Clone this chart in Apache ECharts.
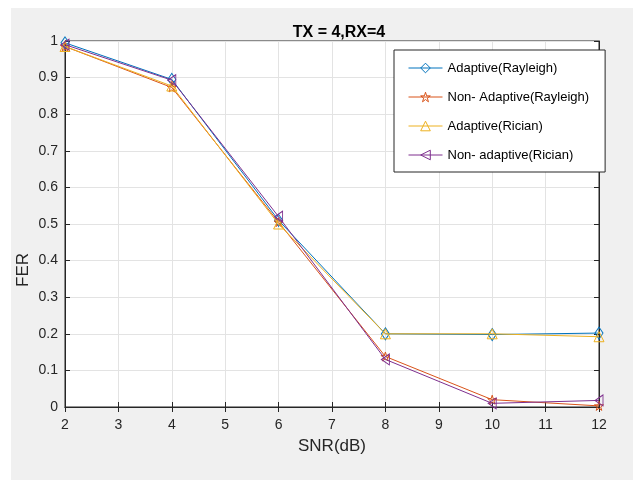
<!DOCTYPE html>
<html lang="en">
<head>
  <meta charset="UTF-8">
  <title>FER vs SNR</title>
  <style>
    html, body, #chart {
      margin: 0;
      padding: 0;
      width: 633px;
      height: 480px;
      background: #ffffff;
    }
  </style>
</head>
<body>
<div id="chart"></div>

<script src="https://cdn.jsdelivr.net/npm/echarts@6/dist/echarts.min.js"></script>
<script>
  // data
  var snr = [2, 4, 6, 8, 10, 12];
  var adaptiveRayleigh = [0.995, 0.895, 0.51, 0.2, 0.198, 0.202];
  var nonAdaptiveRayleigh = [0.985, 0.873, 0.505, 0.138, 0.02, 0.003];
  var adaptiveRician = [0.985, 0.877, 0.5, 0.2, 0.2, 0.192];
  var nonAdaptiveRician = [0.99, 0.893, 0.52, 0.13, 0.01, 0.018];

  var names = ['Adaptive(Rayleigh)', 'Non- Adaptive(Rayleigh)', 'Adaptive(Rician)', 'Non- adaptive(Rician)'];
  var colors = ['#0072BD', '#D95319', '#EDB120', '#7E2F8E'];
  var starPath = 'path://M50,0 L61.8,36.2 L100,36.2 L69.1,58.8 L80.9,95.1 L50,72.6 L19.1,95.1 L30.9,58.8 L0,36.2 L38.2,36.2 Z';
  var leftTri = 'path://M0,50 L100,0 L100,100 Z';
  var symbols = ['diamond', starPath, 'triangle', leftTri];
  var sizes = [[8, 12], 9, 10, [8, 11]];
  var values = [adaptiveRayleigh, nonAdaptiveRayleigh, adaptiveRician, nonAdaptiveRician];

  var font = '"Liberation Sans", Arial, Helvetica, sans-serif';
  var axisColor = '#262626';

  var series = values.map(function (vals, i) {
    return {
      name: names[i],
      type: 'line',
      data: snr.map(function (x, j) { return [x, vals[j]]; }),
      symbol: symbols[i],
      symbolSize: sizes[i],
      showAllSymbol: true,
      lineStyle: { color: colors[i], width: 1 },
      itemStyle: { color: 'rgba(255,255,255,0)', borderColor: colors[i], borderWidth: 1 },
      emphasis: { disabled: true },
      animation: false,
      z: 3 + i
    };
  });

  var chart = echarts.init(document.getElementById('chart'));
  chart.setOption({
    backgroundColor: '#ffffff',
    textStyle: { fontFamily: font },
    graphic: [{
      type: 'rect',
      shape: { x: 11, y: 8, width: 622, height: 472 },
      style: { fill: '#f0f0f0' },
      z: -10
    }],
    title: {
      text: 'TX = 4,RX=4',
      left: 334,
      top: 20,
      textAlign: 'center',
      textStyle: { fontSize: 16, fontWeight: 'bold', color: '#000', fontFamily: font }
    },
    grid: {
      left: 65, top: 41, right: 34, bottom: 73,
      show: true,
      backgroundColor: '#ffffff',
      borderColor: axisColor,
      borderWidth: 1
    },
    legend: {
      orient: 'vertical',
      left: 394,
      top: 50,
      padding: [11, 16, 10, 14],
      itemWidth: 34,
      itemHeight: 12,
      itemGap: 15,
      backgroundColor: '#ffffff',
      borderColor: axisColor,
      borderWidth: 1,
      borderRadius: 0,
      lineStyle: { width: 1 },
      itemStyle: { borderWidth: 1 },
      textStyle: { fontSize: 13, lineHeight: 14, color: '#000', fontFamily: font },
      data: names
    },
    xAxis: [{
      type: 'value',
      min: 2, max: 12, interval: 1,
      name: 'SNR(dB)',
      nameLocation: 'middle',
      nameGap: 31,
      nameMoveOverlap: false,
      nameTextStyle: { fontSize: 17, color: axisColor, fontFamily: font },
      axisLine: { show: true, lineStyle: { color: axisColor } },
      axisTick: { show: true, inside: true, length: 5, lineStyle: { color: axisColor } },
      axisLabel: { fontSize: 14, color: axisColor, margin: 11, fontFamily: font },
      splitLine: { show: true, lineStyle: { color: '#e3e3e3' } }
    }, {
      type: 'value',
      position: 'top',
      min: 2, max: 12, interval: 1,
      axisLine: { show: true, lineStyle: { color: axisColor } },
      axisTick: { show: true, inside: true, length: 5, lineStyle: { color: axisColor } },
      axisLabel: { show: false },
      splitLine: { show: false }
    }],
    yAxis: [{
      type: 'value',
      min: 0, max: 1, interval: 0.1,
      name: 'FER',
      nameLocation: 'middle',
      nameGap: 33,
      nameMoveOverlap: false,
      nameTextStyle: { fontSize: 17, color: axisColor, fontFamily: font, padding: [0, 0, 0, -92] },
      axisLine: { show: true, lineStyle: { color: axisColor } },
      axisTick: { show: true, inside: true, length: 5, lineStyle: { color: axisColor } },
      axisLabel: {
        fontSize: 14, color: axisColor, margin: 7, fontFamily: font,
        formatter: function (v) { return String(Math.round(v * 10) / 10); }
      },
      splitLine: { show: true, lineStyle: { color: '#e3e3e3' } }
    }, {
      type: 'value',
      position: 'right',
      min: 0, max: 1, interval: 0.1,
      axisLine: { show: true, lineStyle: { color: axisColor } },
      axisTick: { show: true, inside: true, length: 5, lineStyle: { color: axisColor } },
      axisLabel: { show: false },
      splitLine: { show: false }
    }],
    series: series
  });
</script>
</body>
</html>
